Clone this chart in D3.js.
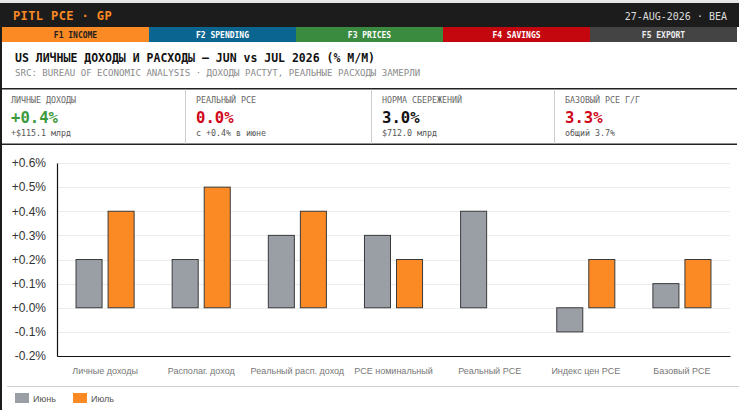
<!DOCTYPE html>
<html>
<head>
<meta charset="utf-8">
<script src="https://cdn.jsdelivr.net/npm/d3@7"></script>
<style>
  html, body { margin: 0; padding: 0; background: #e6e6e6; }
  svg { display: block; }
  .mono { font-family: "DejaVu Sans Mono", monospace; }
  .sans { font-family: "Liberation Sans", Arial, sans-serif; }
</style>
</head>
<body>
<div id="chart"></div>
<script>
var width = 739,
    height = 410;

// data
var categories = ["Личные доходы", "Располаг. доход", "Реальный расп. доход", "PCE номинальный", "Реальный PCE", "Индекс цен PCE", "Базовый PCE"];
var seriesNames = ["Июнь", "Июль"];
var junValues = [0.2, 0.2, 0.3, 0.3, 0.4, -0.1, 0.1];
var julValues = [0.4, 0.5, 0.4, 0.2, 0.0, 0.2, 0.2];
var yTicks = [-0.2, -0.1, 0.0, 0.1, 0.2, 0.3, 0.4, 0.5, 0.6];

var tabLabels = ["F1 INCOME", "F2 SPENDING", "F3 PRICES", "F4 SAVINGS", "F5 EXPORT"];
var tabColors = ["#fb8a24", "#0b6591", "#3a8b3f", "#c4060f", "#444444"];
var tabText = ["#222", "#fff", "#fff", "#fff", "#eee"];

var kpiLabels = ["ЛИЧНЫЕ ДОХОДЫ", "РЕАЛЬНЫЙ PCE", "НОРМА СБЕРЕЖЕНИЙ", "БАЗОВЫЙ PCE Г/Г"];
var kpiValues = ["+0.4%", "0.0%", "3.0%", "3.3%"];
var kpiSubs = ["+$115.1 млрд", "с +0.4% в июне", "$712.0 млрд", "общий 3.7%"];
var kpiColors = ["#3c9a3c", "#d0061a", "#111", "#d0061a"];

var colors = {"Июнь": "#9a9fa6", "Июль": "#fb8a24"};

var svg = d3.select("#chart").append("svg")
    .attr("width", width)
    .attr("height", height);

// page frame
svg.append("rect").attr("x", 0).attr("y", 3).attr("width", width).attr("height", height - 3).attr("fill", "#fff");
svg.append("rect").attr("x", 0).attr("y", 3).attr("width", width).attr("height", 24).attr("fill", "#1c1c1c");
svg.append("rect").attr("x", 0).attr("y", 3).attr("width", 2).attr("height", height - 3).attr("fill", "#1c1c1c");

svg.append("text").attr("class", "mono")
    .attr("x", 13).attr("y", 20)
    .attr("fill", "#fb8a24")
    .style("font-size", "12px").style("font-weight", "bold").style("letter-spacing", "0.4px")
    .text("PITL PCE · GP");
svg.append("text").attr("class", "mono")
    .attr("x", 727).attr("y", 19.5)
    .attr("text-anchor", "end")
    .attr("fill", "#ddd")
    .style("font-size", "10px")
    .text("27-AUG-2026 · BEA");

// tabs
var tabX = d3.scaleBand().domain(tabLabels).range([2, 737]);
var tabs = svg.append("g");
tabs.selectAll("rect").data(tabLabels).enter().append("rect")
    .attr("x", function(d) { return tabX(d); })
    .attr("y", 27)
    .attr("width", tabX.bandwidth())
    .attr("height", 15)
    .attr("fill", function(d, i) { return tabColors[i]; });
tabs.selectAll("text").data(tabLabels).enter().append("text")
    .attr("class", "mono")
    .attr("x", function(d) { return tabX(d) + tabX.bandwidth() / 2; })
    .attr("y", 38)
    .attr("text-anchor", "middle")
    .attr("fill", function(d, i) { return tabText[i]; })
    .style("font-size", "8px").style("font-weight", "bold")
    .text(function(d) { return d; });

// title
svg.append("text").attr("class", "mono")
    .attr("x", 15).attr("y", 62)
    .attr("fill", "#111")
    .style("font-size", "11.5px").style("font-weight", "bold")
    .text("US ЛИЧНЫЕ ДОХОДЫ И РАСХОДЫ — JUN vs JUL 2026 (% M/M)");
svg.append("text").attr("class", "mono")
    .attr("x", 15).attr("y", 76)
    .attr("fill", "#8a8a8a")
    .style("font-size", "9.1px")
    .text("SRC: BUREAU OF ECONOMIC ANALYSIS · ДОХОДЫ РАСТУТ, РЕАЛЬНЫЕ РАСХОДЫ ЗАМЕРЛИ");

// kpi cards
svg.append("rect").attr("x", 2).attr("y", 88).attr("width", 735).attr("height", 1.5).attr("fill", "#222");
svg.append("rect").attr("x", 2).attr("y", 143.5).attr("width", 735).attr("height", 1.5).attr("fill", "#222");
var cardLeft = [2, 185, 371, 554];
var cards = svg.append("g");
cardLeft.forEach(function(cx, i) {
    if (i > 0) {
        cards.append("line").attr("x1", cx + 0.5).attr("x2", cx + 0.5)
            .attr("y1", 89.5).attr("y2", 143.5)
            .attr("stroke", "#cfcfcf");
    }
    cards.append("text").attr("class", "mono")
        .attr("x", cx + (i == 0 ? 9 : 11)).attr("y", 103)
        .attr("fill", "#666").style("font-size", "8.3px")
        .text(kpiLabels[i]);
    cards.append("text").attr("class", "mono")
        .attr("x", cx + (i == 0 ? 9 : 11)).attr("y", 123)
        .attr("fill", kpiColors[i]).style("font-size", "15.6px").style("font-weight", "bold")
        .text(kpiValues[i]);
    cards.append("text").attr("class", "mono")
        .attr("x", cx + (i == 0 ? 9 : 11)).attr("y", 136)
        .attr("fill", "#555").style("font-size", "8.3px")
        .text(kpiSubs[i]);
});

// chart
var plotLeft = 57, plotRight = 730, plotTop = 163, plotBottom = 356;

var x0 = d3.scaleBand().domain(categories).range([plotLeft, plotRight]);
var x1 = d3.scaleBand().domain(seriesNames).range([0, x0.bandwidth()])
    .paddingInner(0.1875).paddingOuter(0.594);
var y = d3.scaleLinear().domain([-0.2, 0.6]).range([plotBottom, plotTop]);

var fmt = function(d) { return (d < -1e-9 ? "-" : "+") + Math.abs(d).toFixed(1) + "%"; };

svg.append("g")
    .selectAll("line").data(yTicks).enter().append("line")
    .attr("x1", plotLeft).attr("x2", plotRight)
    .attr("y1", function(d) { return Math.round(y(d)) + 0.5; })
    .attr("y2", function(d) { return Math.round(y(d)) + 0.5; })
    .attr("stroke", "#ececec");

var yAxis = svg.append("g")
    .attr("transform", "translate(" + plotLeft + ",0)")
    .call(d3.axisLeft(y).tickValues(yTicks).tickFormat(fmt).tickSize(0).tickPadding(11));
yAxis.select(".domain").attr("stroke", "#111").attr("stroke-width", 1.2);
yAxis.selectAll("text").attr("class", "sans").attr("fill", "#333").style("font-size", "12px");

var groups = svg.append("g").selectAll("g").data(categories).enter().append("g")
    .attr("transform", function(d) { return "translate(" + x0(d) + ",0)"; });

groups.selectAll("rect")
    .data(function(d, i) {
        return [{s: "Июнь", v: junValues[i]}, {s: "Июль", v: julValues[i]}].filter(function(e) { return e.v != 0; });
    })
    .enter().append("rect")
    .attr("x", function(d) { return x1(d.s); })
    .attr("y", function(d) { return y(Math.max(0, d.v)); })
    .attr("width", x1.bandwidth())
    .attr("height", function(d) { return Math.abs(y(d.v) - y(0)); })
    .attr("fill", function(d) { return colors[d.s]; })
    .attr("stroke", "#3a3a3a")
    .attr("stroke-width", 1);

var xAxis = svg.append("g")
    .attr("transform", "translate(0," + plotBottom + ")")
    .call(d3.axisBottom(x0).tickSize(0).tickPadding(12));
xAxis.select(".domain").attr("stroke", "#111").attr("stroke-width", 1.2);
xAxis.selectAll("text").attr("class", "sans").attr("fill", "#777").style("font-size", "9px");

// legend
svg.append("line").attr("x1", 7).attr("x2", width).attr("y1", 386.5).attr("y2", 386.5).attr("stroke", "#d0d0d0");
var legendX = [15, 73];
var legend = svg.append("g");
seriesNames.forEach(function(s, i) {
    legend.append("rect")
        .attr("x", legendX[i]).attr("y", 393)
        .attr("width", 14).attr("height", 10)
        .attr("fill", colors[s]);
    legend.append("text").attr("class", "sans")
        .attr("x", legendX[i] + 18).attr("y", 401.5)
        .attr("fill", "#555").style("font-size", "9px")
        .text(s);
});
</script>
</body>
</html>
